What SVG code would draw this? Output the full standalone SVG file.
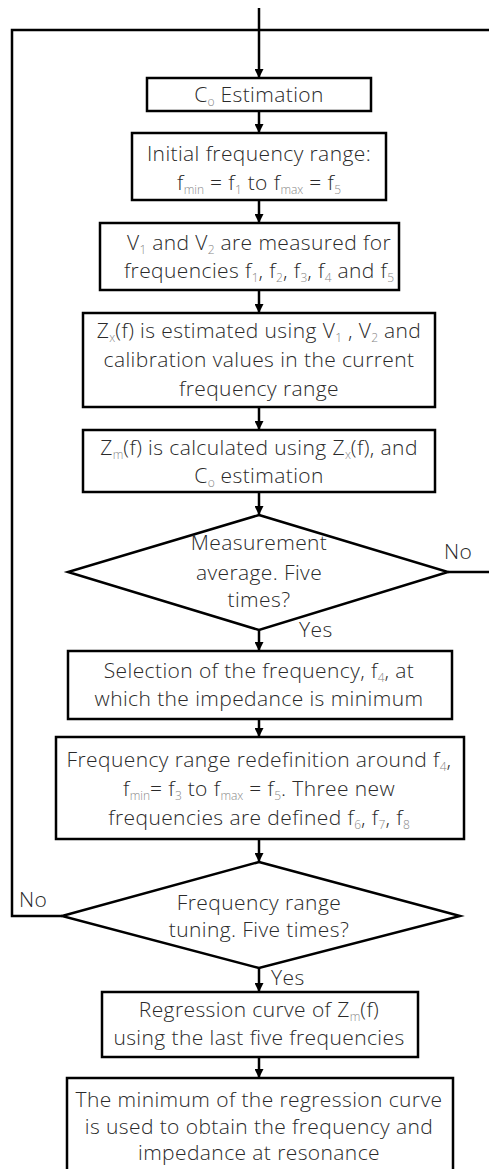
<svg xmlns="http://www.w3.org/2000/svg" width="489" height="1169" viewBox="0 0 489 1169">
<style>
  .box { fill: #fff; stroke: #000; stroke-width: 2.5; }
  .dia { fill: #fff; stroke: #000; stroke-width: 2.5; stroke-linejoin: miter; }
  .ln { fill: none; stroke: #000; stroke-width: 2.5; }
  .ar { fill: none; stroke: #000; stroke-width: 2.5; marker-end: url(#ah); }
  text { font-family: "Open Sans", "Liberation Sans", sans-serif; font-weight: 300; font-size: 21px; letter-spacing: 0.4px; fill: #2a2a2a; text-anchor: middle; }
  .lbl { text-anchor: start; }
  .s { font-size: 12px; fill: #888; letter-spacing: 0; }
</style>
<defs>
  <marker id="ah" viewBox="0 0 10 10" refX="10" refY="5" markerWidth="3.6" markerHeight="3.6" orient="auto" markerUnits="strokeWidth">
    <path d="M0,0 L10,5 L0,10 Z" fill="#000"/>
  </marker>
</defs>
<rect width="489" height="1169" fill="#fff"/>

<g id="connectors">
  <line class="ar" x1="259" y1="8" x2="259" y2="78"/>
  <polyline class="ln" points="489,30 12,30 12,916 62,916"/>
  <line class="ln" x1="448" y1="572" x2="489" y2="572"/>
  <line class="ar" x1="259" y1="111" x2="259" y2="133"/>
  <line class="ar" x1="259" y1="200" x2="259" y2="223"/>
  <line class="ar" x1="259" y1="290" x2="259" y2="313"/>
  <line class="ar" x1="259" y1="407" x2="259" y2="430"/>
  <line class="ar" x1="259" y1="492" x2="259" y2="515"/>
  <line class="ar" x1="259" y1="630" x2="259" y2="651"/>
  <line class="ar" x1="259" y1="719" x2="259" y2="737"/>
  <line class="ar" x1="259" y1="839" x2="259" y2="862"/>
  <line class="ar" x1="259" y1="968" x2="259" y2="992"/>
  <line class="ar" x1="259" y1="1057" x2="259" y2="1078"/>
  <text class="lbl" x="444" y="559">No</text>
  <text class="lbl" x="299" y="637">Yes</text>
  <text class="lbl" x="19" y="907">No</text>
  <text class="lbl" x="271" y="985">Yes</text>
</g>

<g id="n1">
  <rect class="box" x="147" y="78" width="224" height="33"/>
  <text x="259" y="102">C<tspan class="s" dy="4">o</tspan><tspan dy="-4"> Estimation</tspan></text>
</g>

<g id="n2">
  <rect class="box" x="132" y="133" width="254" height="67"/>
  <text x="259" y="161">Initial frequency range:</text>
  <text x="259" y="190">f<tspan class="s" dy="4">min</tspan><tspan dy="-4"> = f</tspan><tspan class="s" dy="4">1</tspan><tspan dy="-4"> to f</tspan><tspan class="s" dy="4">max</tspan><tspan dy="-4"> = f</tspan><tspan class="s" dy="4">5</tspan></text>
</g>

<g id="n3">
  <rect class="box" x="100" y="223" width="299" height="67"/>
  <text x="259" y="250">V<tspan class="s" dy="4">1</tspan><tspan dy="-4"> and V</tspan><tspan class="s" dy="4">2</tspan><tspan dy="-4"> are measured for</tspan></text>
  <text x="259" y="278">frequencies f<tspan class="s" dy="4">1</tspan><tspan dy="-4">, f</tspan><tspan class="s" dy="4">2</tspan><tspan dy="-4">, f</tspan><tspan class="s" dy="4">3</tspan><tspan dy="-4">, f</tspan><tspan class="s" dy="4">4</tspan><tspan dy="-4"> and f</tspan><tspan class="s" dy="4">5</tspan></text>
</g>

<g id="n4">
  <rect class="box" x="83" y="313" width="352" height="94"/>
  <text x="259" y="338">Z<tspan class="s" dy="4">x</tspan><tspan dy="-4">(f) is estimated using V</tspan><tspan class="s" dy="4">1</tspan><tspan dy="-4"> , V</tspan><tspan class="s" dy="4">2</tspan><tspan dy="-4"> and</tspan></text>
  <text x="259" y="367">calibration values in the current</text>
  <text x="259" y="396">frequency range</text>
</g>

<g id="n5">
  <rect class="box" x="83" y="430" width="352" height="62"/>
  <text x="259" y="455">Z<tspan class="s" dy="4">m</tspan><tspan dy="-4">(f) is calculated using Z</tspan><tspan class="s" dy="4">x</tspan><tspan dy="-4">(f), and</tspan></text>
  <text x="259" y="483">C<tspan class="s" dy="4">o</tspan><tspan dy="-4"> estimation</tspan></text>
</g>

<g id="d1">
  <polygon class="dia" points="259,515 448,572 259,630 68,572"/>
  <text x="259" y="550">Measurement</text>
  <text x="259" y="580">average. Five</text>
  <text x="259" y="607">times?</text>
</g>

<g id="n6">
  <rect class="box" x="68" y="651" width="384" height="68"/>
  <text x="259" y="678">Selection of the frequency, f<tspan class="s" dy="4">4</tspan><tspan dy="-4">, at</tspan></text>
  <text x="259" y="706">which the impedance is minimum</text>
</g>

<g id="n7">
  <rect class="box" x="56" y="737" width="408" height="102"/>
  <text x="259" y="767">Frequency range redefinition around f<tspan class="s" dy="4">4</tspan><tspan dy="-4">,</tspan></text>
  <text x="259" y="796">f<tspan class="s" dy="4">min</tspan><tspan dy="-4">= f</tspan><tspan class="s" dy="4">3</tspan><tspan dy="-4"> to f</tspan><tspan class="s" dy="4">max</tspan><tspan dy="-4"> = f</tspan><tspan class="s" dy="4">5</tspan><tspan dy="-4">. Three new</tspan></text>
  <text x="259" y="825">frequencies are defined f<tspan class="s" dy="4">6</tspan><tspan dy="-4">, f</tspan><tspan class="s" dy="4">7</tspan><tspan dy="-4">, f</tspan><tspan class="s" dy="4">8</tspan></text>
</g>

<g id="d2">
  <polygon class="dia" points="259,862 460,916 259,968 62,916"/>
  <text x="259" y="910">Frequency range</text>
  <text x="259" y="937">tuning. Five times?</text>
</g>

<g id="n8">
  <rect class="box" x="102" y="992" width="316" height="65"/>
  <text x="259" y="1017">Regression curve of Z<tspan class="s" dy="4">m</tspan><tspan dy="-4">(f)</tspan></text>
  <text x="259" y="1045">using the last five frequencies</text>
</g>

<g id="n9">
  <rect class="box" x="67" y="1078" width="386" height="110"/>
  <text x="259" y="1107">The minimum of the regression curve</text>
  <text x="259" y="1134">is used to obtain the frequency and</text>
  <text x="259" y="1160">impedance at resonance</text>
</g>
</svg>
